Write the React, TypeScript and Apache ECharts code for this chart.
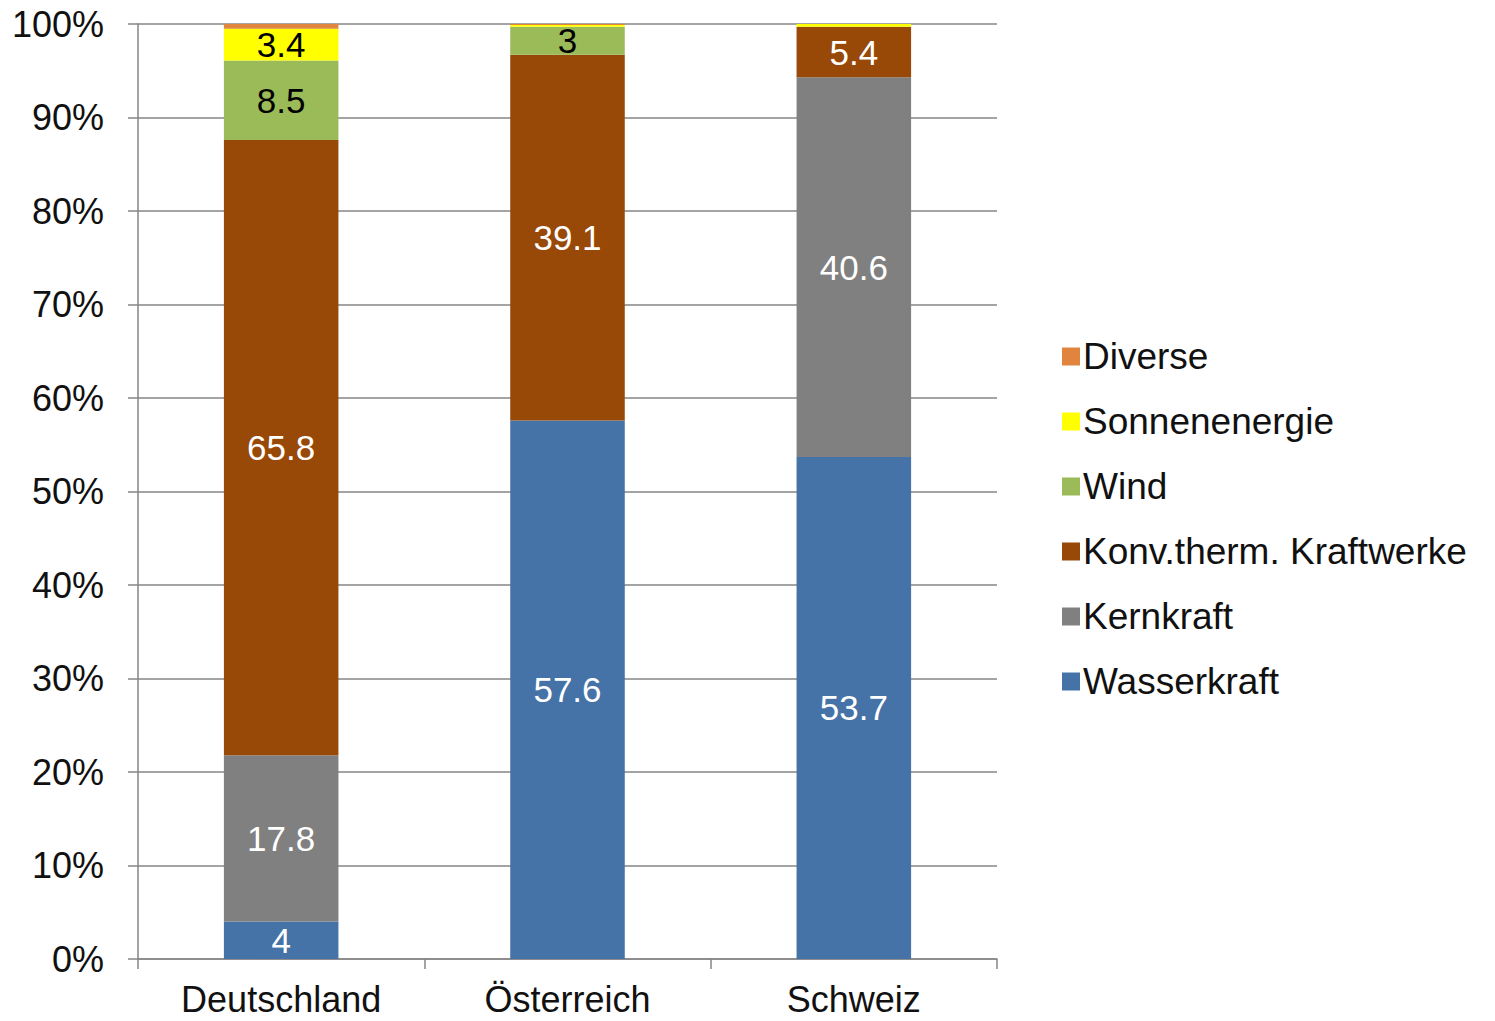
import React, { useEffect, useRef } from "react";
import * as echarts from "echarts";

const categories = ["Deutschland", "Österreich", "Schweiz"];
const seriesNames = ["Wasserkraft", "Kernkraft", "Konv.therm. Kraftwerke", "Wind", "Sonnenenergie", "Diverse"];
const wasserkraft = [4, 57.6, 53.7];
const kernkraft = [17.8, 0, 40.6];
const konvTherm = [65.8, 39.1, 5.4];
const wind = [8.5, 3, 0];
const sonnenenergie = [3.4, 0.2, 0.3];
const diverse = [0.5, 0.1, 0];
const colors = ["#4572A7", "#808080", "#984807", "#9BBB59", "#FFFF00", "#E0843E"];
const labelColors = ["#ffffff", "#ffffff", "#ffffff", "#000000", "#000000", "#000000"];
const yTicks = [0, 10, 20, 30, 40, 50, 60, 70, 80, 90, 100];

const FONT = "'Liberation Sans', Arial, sans-serif";

export default function App() {
  const ref = useRef<HTMLDivElement>(null);
  useEffect(() => {
    if (!ref.current) return;
    const chart = echarts.init(ref.current, undefined, { renderer: "svg" });
    const values = [wasserkraft, kernkraft, konvTherm, wind, sonnenenergie, diverse];
    chart.setOption({
      animation: false,
      textStyle: { fontFamily: FONT },
      grid: { left: 138, right: 498, top: 24, bottom: 62, containLabel: false },
      legend: {
        orient: "vertical",
        left: 1057,
        top: 333,
        itemWidth: 18,
        itemHeight: 18,
        itemGap: 28,
        icon: "rect",
        data: [...seriesNames].reverse(),
        textStyle: { fontSize: 37, color: "#111", fontFamily: FONT, padding: [0, 0, 0, -2] },
      },
      xAxis: {
        type: "category",
        data: categories,
        axisLine: { lineStyle: { color: "#868686", width: 1.5 } },
        axisTick: { show: true, length: 10, lineStyle: { color: "#868686", width: 1.5 } },
        axisLabel: { fontSize: 36, color: "#111", margin: 22, fontFamily: FONT },
      },
      yAxis: {
        type: "value",
        min: 0,
        max: 100,
        interval: 10,
        axisLine: { show: true, lineStyle: { color: "#868686", width: 1.5 } },
        axisTick: { show: true, length: 10, lineStyle: { color: "#868686", width: 1.5 } },
        splitLine: { lineStyle: { color: "#868686", width: 1.5 } },
        axisLabel: {
          fontSize: 36,
          color: "#111",
          margin: 34,
          fontFamily: FONT,
          formatter: (v: number) => (yTicks.includes(v) ? v + "%" : ""),
        },
      },
      series: seriesNames.map((name, i) => ({
        name,
        type: "bar",
        stack: "total",
        barWidth: "40%",
        itemStyle: { color: colors[i] },
        data: values[i],
        label: {
          show: true,
          position: "inside",
          fontSize: 35,
          color: labelColors[i],
          fontFamily: FONT,
          formatter: (p: any) => (p.value >= 1 ? String(p.value) : ""),
        },
      })),
    });
    return () => chart.dispose();
  }, []);
  return <div ref={ref} style={{ width: 1495, height: 1021, position: "absolute", left: 0, top: 0, background: "#fff" }} />;
}
